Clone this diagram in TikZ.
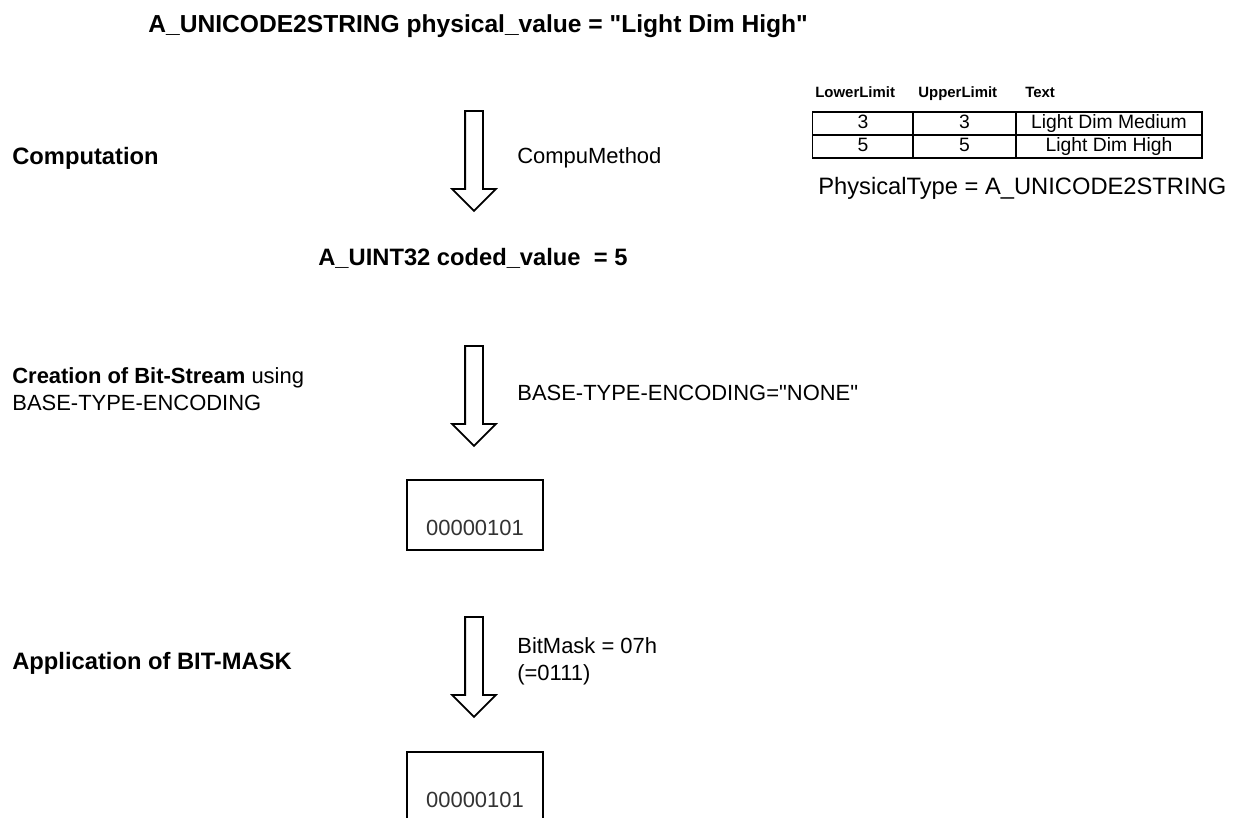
\documentclass[tikz,border=0pt]{standalone}
\usepackage{fontspec}
\setmainfont[Ligatures=TeXOff]{Liberation Sans}
\usetikzlibrary{positioning,shapes.arrows}
\tikzset{
  steptext/.style={font=\fontsize{13.5}{16}\selectfont\bfseries, inner sep=0pt, anchor=west},
  sidetext/.style={font=\fontsize{12.5}{15.5}\selectfont, inner sep=0pt, anchor=west, align=left},
  flowarrow/.style={draw, line width=1pt, single arrow, rotate=-90, anchor=tail,
    minimum height=2cm, minimum width=0.84cm, inner xsep=0pt, inner ysep=0.16cm,
    single arrow head extend=0.26cm},
  bitbox/.style={draw, line width=1pt, minimum width=2.72cm, minimum height=1.4cm},
  bittext/.style={font=\fontsize{12.5}{15}\selectfont, text=black!80, inner sep=0pt},
  cell/.style={draw, line width=1pt, font=\fontsize{11}{12}\selectfont,
    minimum height=0.46cm, inner sep=0pt, text height=8pt, text depth=2.4pt},
  headtext/.style={font=\fontsize{8.5}{10}\selectfont\bfseries, inner sep=0pt, anchor=base west},
}

\begin{document}
\begin{tikzpicture}[x=0.02cm, y=-0.02cm]
  \clip (0,0) rectangle (1248,818);

  % values and their type
  \node[steptext, font=\fontsize{14}{16}\selectfont\bfseries] (phys) at (148,26) {A\_UNICODE2STRING physical\_value = "Light Dim High"};
  \node[steptext] (coded) at (318,258) {A\_UINT32 coded\_value\ \ = 5};

  % steps on the left
  \node[steptext] (comp) at (12,158) {Computation};
  \node[sidetext] (stream) at (12,389) {\textbf{Creation of Bit-Stream} using\\BASE-TYPE-ENCODING};
  \node[steptext] (mask) at (12,663) {Application of BIT-MASK};

  % down arrows
  \node[flowarrow] (arr1) at (474,110) {};
  \node[flowarrow] (arr2) at (474,345) {};
  \node[flowarrow] (arr3) at (474,616) {};
  \node[sidetext] (cm) at (517,158) {CompuMethod};
  \node[sidetext] (enc) at (517,393) {BASE-TYPE-ENCODING="NONE"};
  \node[sidetext] (bm) at (517,661) {BitMask = 07h\\(=0111)};

  % bit streams
  \node[bitbox] (bits1) at (475,515) {};
  \node[bittext, above=0.3cm of bits1.south] (val1) {00000101};
  \node[bitbox] (bits2) at (475,787) {};
  \node[bittext, above=0.3cm of bits2.south] (val2) {00000101};

  % compu-method table
  \node[headtext] (hlo) at (815,97) {LowerLimit};
  \node[headtext] (hhi) at (918,97) {UpperLimit};
  \node[headtext] (htx) at (1025,97) {Text};
  \foreach \lo/\hi/\txt [count=\r] in {3/3/Light Dim Medium, 5/5/Light Dim High} {
    \node[cell, minimum width=2.02cm] (lo\r) at (863,{100.5+23*\r}) {\lo};
    \node[cell, minimum width=2.06cm] (hi\r) at (964.5,{100.5+23*\r}) {\hi};
    \node[cell, minimum width=3.72cm] (tx\r) at (1109,{100.5+23*\r}) {\txt};
  }
  \node[sidetext, font=\fontsize{13.5}{16}\selectfont] (ptype) at (818,188) {PhysicalType = A\_UNICODE2STRING};
\end{tikzpicture}
\end{document}
